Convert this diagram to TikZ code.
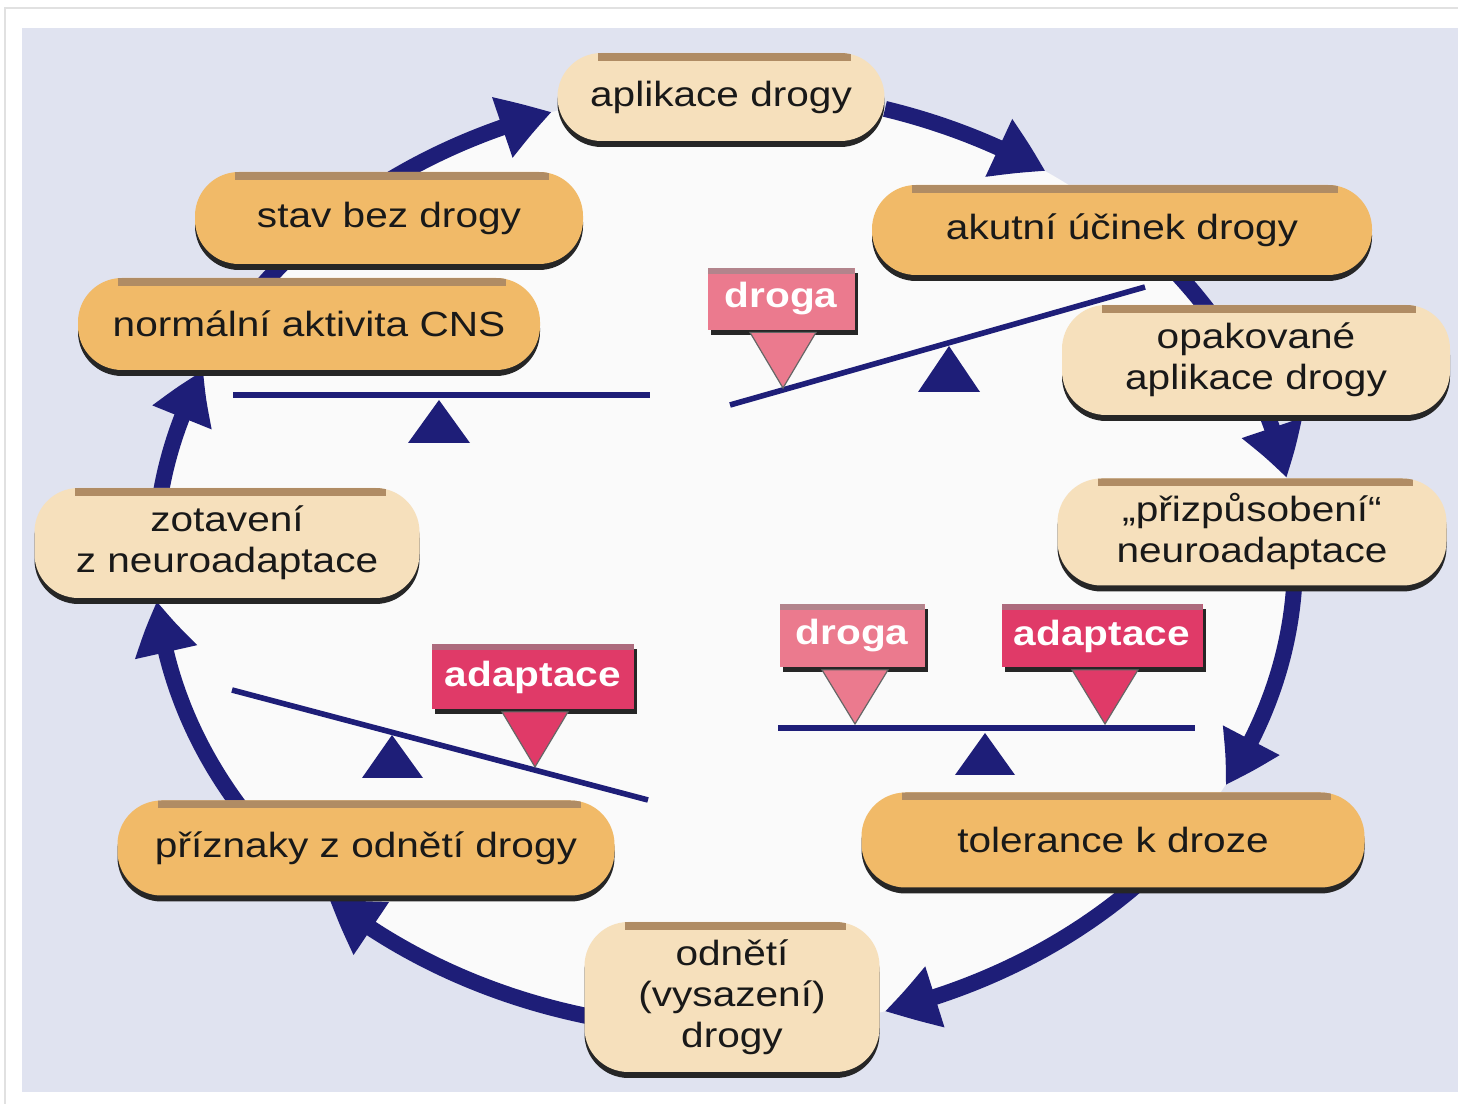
\documentclass[tikz,border=0pt]{standalone}
\usepackage{fontspec}
\setmainfont{Liberation Sans}[FakeStretch=1.16]
\usetikzlibrary{arrows.meta,calc,bending}
\definecolor{lav}{RGB}{224,227,240}
\definecolor{inner}{RGB}{250,250,250}
\definecolor{navy}{RGB}{30,30,120}
\definecolor{darkpill}{RGB}{241,186,104}
\definecolor{lightpill}{RGB}{246,224,188}
\definecolor{band}{RGB}{176,140,100}
\definecolor{pinkl}{RGB}{235,122,142}
\definecolor{crims}{RGB}{224,58,104}
\definecolor{txt}{RGB}{25,25,25}
\definecolor{frame}{RGB}{225,225,225}
\pgfdeclarelayer{bg}
\pgfdeclarelayer{ringlayer}
\pgfsetlayers{bg,ringlayer,main}
\begin{document}
\begin{tikzpicture}[x=0.5pt,y=0.5pt,
  pill/.style={rounded corners=22pt, inner sep=0pt, align=center, text=txt,
    font=\fontsize{17.5}{20.5}\selectfont,
    preaction={fill=black!85, transform canvas={yshift=-3pt}},
    path picture={\fill[band, sharp corners] ([xshift=20pt]path picture bounding box.north west) rectangle ([xshift=-17pt,yshift=-4pt]path picture bounding box.north east);}},
  darkp/.style={pill, fill=darkpill},
  lightp/.style={pill, fill=lightpill},
  tag/.style={inner sep=0pt, text=white, font=\fontsize{17.5}{20}\selectfont\bfseries,
    preaction={fill=black!85, transform canvas={xshift=1.5pt,yshift=-2.5pt}},
    path picture={\fill[black!45,opacity=.6] (path picture bounding box.north west) rectangle ([yshift=-3pt]path picture bounding box.north east);}},
  ringline/.style={line width=8pt, draw=navy},
  ringarrow/.style={ringline, -{Triangle[length=26pt,width=30pt,bend]}},
  beam/.style={draw=navy, line width=2.8pt},
  fulcrum/.style={fill=navy},
  pointer/.style={draw=black!60, line width=0.6pt}
]
\useasboundingbox (0,0) rectangle (1458,1104);
\begin{pgfonlayer}{bg}
  \fill[white] (0,0) rectangle (1458,1104);
  \draw[frame, line width=1pt] (5,0) -- (5,1096) -- (1458,1096);
  \fill[lav] (22,12) rectangle (1458,1076);
  \fill[inner] (725,544) ellipse [x radius=570, y radius=470];
\end{pgfonlayer}

% nodes
\node[lightp, minimum width=163.5pt, minimum height=44pt] (aplik) at (721,1007) {aplikace drogy};
\node[darkp, minimum width=250pt, minimum height=45pt] (akut) at (1122,874) {akutní účinek drogy};
\node[lightp, minimum width=194pt, minimum height=55pt] (opak) at (1256,744) {opakované\\aplikace drogy};
\node[lightp, minimum width=194.5pt, minimum height=53.5pt] (prizp) at (1252,572) {„přizpůsobení“\\neuroadaptace};
\node[darkp, minimum width=251.5pt, minimum height=47.5pt] (toler) at (1113,264) {tolerance k droze};
\node[lightp, minimum width=147.5pt, minimum height=75pt] (odneti) at (732,107) {odnětí\\(vysazení)\\drogy};
\node[darkp, minimum width=248.5pt, minimum height=47.5pt] (prizn) at (366,256) {příznaky z odnětí drogy};
\node[lightp, minimum width=192.5pt, minimum height=55pt] (zotav) at (227,561) {zotavení\\z neuroadaptace};
\node[darkp, minimum width=231pt, minimum height=46pt] (norm) at (309,780) {normální aktivita CNS};
\node[darkp, minimum width=194pt, minimum height=46pt] (stav) at (389,886) {stav bez drogy};

% ring arrows
\coordinate (C) at (725,544);
\begin{pgfonlayer}{ringlayer}
  \coordinate (p1) at ($(C)+(73.7:570 and 470)$);
  \draw[ringarrow] (p1) arc[start angle=73.7, end angle=55.8, x radius=570, y radius=470];
  \coordinate (p2) at ($(C)+(50:570 and 470)$);
  \draw[ringline] (p2) arc[start angle=50, end angle=30, x radius=570, y radius=470];
  \coordinate (p3) at ($(C)+(22:570 and 470)$);
  \draw[ringarrow] (p3) arc[start angle=22, end angle=10.05, x radius=570, y radius=470];
  \coordinate (p4) at ($(C)+(0:570 and 470)$);
  \draw[ringarrow] (p4) arc[start angle=0, end angle=-28.6, x radius=570, y radius=470];
  \coordinate (p5) at ($(C)+(-40:570 and 470)$);
  \draw[ringarrow] (p5) arc[start angle=-40, end angle=-73.7, x radius=570, y radius=470];
  \coordinate (p6) at ($(C)+(-100:570 and 470)$);
  \draw[ringarrow] (p6) arc[start angle=-100, end angle=-134, x radius=570, y radius=470];
  \coordinate (p7) at ($(C)+(-148:570 and 470)$);
  \draw[ringarrow] (p7) arc[start angle=-148, end angle=-175, x radius=570, y radius=470];
  \coordinate (p8) at ($(C)+(-188:570 and 470)$);
  \draw[ringarrow] (p8) arc[start angle=-188, end angle=-203.8, x radius=570, y radius=470];
  \coordinate (p9) at ($(C)+(-210:570 and 470)$);
  \draw[ringarrow] (p9) arc[start angle=-210, end angle=-252.3, x radius=570, y radius=470];
\end{pgfonlayer}

% seesaw 1 (balanced, top left)
\draw[beam] (233,709) -- (650,709);
\fill[fulcrum] (439,704) -- (408,661) -- (470,661) -- cycle;

% seesaw 2 (drug, top right)
\draw[beam] (730,699) -- (1145,817);
\fill[fulcrum] (949,758) -- (918,712) -- (980,712) -- cycle;
\node[tag, fill=pinkl, minimum width=73.5pt, minimum height=31pt] (dr1) at (781,805) {droga};
\coordinate (t1) at (783,716);
\filldraw[pointer, fill=pinkl] ($(dr1.south)+(-31,-2)$) -- ($(dr1.south)+(35,-2)$) -- (t1) -- cycle;

% seesaw 3 (tolerance, bottom right)
\draw[beam] (778,376) -- (1195,376);
\fill[fulcrum] (985,371) -- (955,329) -- (1015,329) -- cycle;
\node[tag, fill=pinkl, minimum width=72.5pt, minimum height=31.5pt] (dr2) at (852,468) {droga};
\coordinate (t2) at (855,380);
\filldraw[pointer, fill=pinkl] ($(dr2.south)+(-30,-2)$) -- ($(dr2.south)+(36,-2)$) -- (t2) -- cycle;
\node[tag, fill=crims, minimum width=100.5pt, minimum height=31.5pt] (ad2) at (1102,468) {adaptace};
\coordinate (t3) at (1105,380);
\filldraw[pointer, fill=crims] ($(ad2.south)+(-30,-2)$) -- ($(ad2.south)+(36,-2)$) -- (t3) -- cycle;

% seesaw 4 (withdrawal, bottom left)
\draw[beam] (232,414) -- (648,304);
\fill[fulcrum] (392,369) -- (362,326) -- (423,326) -- cycle;
\node[tag, fill=crims, minimum width=101pt, minimum height=32.5pt] (ad1) at (533,427) {adaptace};
\coordinate (t4) at (535,337);
\filldraw[pointer, fill=crims] ($(ad1.south)+(-31,-2)$) -- ($(ad1.south)+(35,-2)$) -- (t4) -- cycle;
\end{tikzpicture}
\end{document}
